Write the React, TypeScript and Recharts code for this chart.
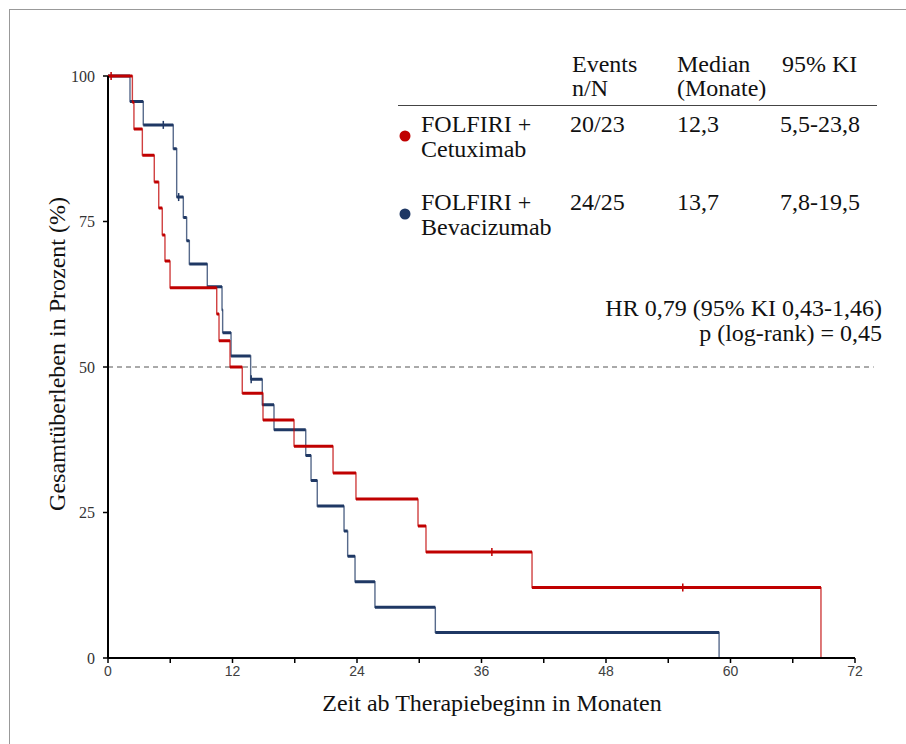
import {ComposedChart, Line, ReferenceLine, XAxis, YAxis} from 'recharts';

// Kaplan-Meier steps (months, % surviving)
const cetuximabTimes = [0, 2.35, 2.5, 3.31, 4.46, 4.89, 5.23, 5.49, 5.98, 10.48, 10.7, 11.76, 12.94, 14.94, 17.93, 21.69, 23.9, 29.88, 30.65, 40.87, 68.72];
const cetuximabSurv = [100, 95.5, 90.9, 86.4, 81.8, 77.3, 72.7, 68.2, 63.6, 59.1, 54.5, 50.0, 45.5, 40.9, 36.4, 31.8, 27.3, 22.7, 18.2, 12.1, 0];
const cetuximabCensorTimes = [0.3, 37.0, 55.4];
const cetuximabCensorSurv = [100, 18.2, 12.1];

const bevacizumabTimes = [0, 2.12, 3.4, 6.29, 6.62, 7.26, 7.58, 7.84, 9.57, 10.99, 11.05, 11.86, 13.75, 14.87, 16.0, 19.06, 19.57, 20.17, 22.75, 23.1, 23.81, 25.73, 31.55, 58.9];
const bevacizumabSurv = [100, 95.6, 91.6, 87.5, 79.2, 75.7, 71.7, 67.7, 63.8, 59.8, 55.9, 51.9, 47.9, 43.5, 39.2, 34.8, 30.5, 26.1, 21.8, 17.5, 13.1, 8.7, 4.4, 0];
const bevacizumabCensorTimes = [5.33, 6.81, 13.8];
const bevacizumabCensorSurv = [91.6, 79.2, 47.9];

const xTicks = [0, 6, 12, 18, 24, 30, 36, 42, 48, 54, 60, 66, 72];
const yTicks = [0, 25, 50, 75, 100];

const tableHeaders = [['Events', 'n/N'], ['Median', '(Monate)'], ['95% KI', '']];
const armNames = [['FOLFIRI +', 'Cetuximab'], ['FOLFIRI +', 'Bevacizumab']];
const armEvents = ['20/23', '24/25'];
const armMedians = ['12,3', '13,7'];
const armCIs = ['5,5-23,8', '7,8-19,5'];

const RED = '#C00000';
const BLUE = '#1F3864';
const SERIF = '"Liberation Serif", "Times New Roman", serif';

const steps = (times: number[], surv: number[]) =>
  times.map((t, i) => ({t, s: surv[i]}));

// horizontal pieces only, broken by nulls, so they can be drawn heavier
const flats = (times: number[], surv: number[]) => {
  const out: {t: number; s: number | null}[] = [];
  for (let i = 0; i < times.length - 1; i++) {
    out.push({t: times[i], s: surv[i]}, {t: times[i + 1], s: surv[i]}, {t: times[i + 1], s: null});
  }
  return out;
};

const censorTick = (color: string) => (props: any) => {
  const {cx, cy, index} = props;
  if (cx == null || cy == null) return <g key={index} />;
  return (
    <line key={index} x1={cx} x2={cx} y1={cy - 4} y2={cy + 4} stroke={color} strokeWidth={1.5} />
  );
};

function Curve({times, surv, ct, cs, color, id}: any) {
  return [
    <Line
      key={id + 'v'}
      data={steps(times, surv)}
      dataKey="s"
      type="stepAfter"
      stroke={color}
      strokeOpacity={0.75}
      strokeWidth={1.4}
      dot={false}
      activeDot={false}
      isAnimationActive={false}
    />,
    <Line
      key={id + 'h'}
      data={flats(times, surv)}
      dataKey="s"
      type="linear"
      stroke={color}
      strokeWidth={3}
      connectNulls={false}
      dot={false}
      activeDot={false}
      isAnimationActive={false}
    />,
    <Line
      key={id + 'c'}
      data={steps(ct, cs)}
      dataKey="s"
      stroke="none"
      dot={censorTick(color)}
      activeDot={false}
      isAnimationActive={false}
    />,
  ];
}

export default function App() {
  const colX = [572, 677, 782];
  const rowY = [132, 210];
  return (
    <div style={{position: 'absolute', left: 0, top: 0, width: 906, height: 744, background: '#fff', overflow: 'hidden'}}>
      <div style={{position: 'absolute', left: 9, top: 9, width: 906, height: 744, borderTop: '1px solid #999', borderLeft: '1px solid #999'}} />
      <ComposedChart
        width={906}
        height={744}
        margin={{top: 76, right: 51, bottom: 56, left: 0}}
        style={{position: 'absolute', left: 0, top: 0}}
      >
        <XAxis
          type="number"
          dataKey="t"
          domain={[0, 72]}
          ticks={xTicks}
          interval={0}
          tickFormatter={(v: number) => (v % 12 === 0 ? String(v) : '')}
          height={30}
          tickSize={5}
          tickMargin={3}
          axisLine={{stroke: '#000', strokeWidth: 2}}
          tickLine={{stroke: '#000', strokeWidth: 1.5}}
          tick={{fill: '#404040', fontSize: 14, fontFamily: '"Liberation Sans", Arial, sans-serif'}}
          allowDuplicatedCategory={false}
        />
        <YAxis
          type="number"
          domain={[0, 100]}
          ticks={yTicks}
          width={108}
          tickSize={5}
          tickMargin={8}
          axisLine={{stroke: '#000', strokeWidth: 2}}
          tickLine={{stroke: '#000', strokeWidth: 1.5}}
          tick={{fill: '#333', fontSize: 16, fontFamily: SERIF}}
        />
        <ReferenceLine
          segment={[{x: 0, y: 50}, {x: 73.8, y: 50}]}
          ifOverflow="visible"
          stroke="#555"
          strokeDasharray="5 4"
          strokeWidth={1}
        />
        {Curve({times: bevacizumabTimes, surv: bevacizumabSurv, ct: bevacizumabCensorTimes, cs: bevacizumabCensorSurv, color: BLUE, id: 'b'})}
        {Curve({times: cetuximabTimes, surv: cetuximabSurv, ct: cetuximabCensorTimes, cs: cetuximabCensorSurv, color: RED, id: 'r'})}
      </ComposedChart>
      <svg width={906} height={744} style={{position: 'absolute', left: 0, top: 0, pointerEvents: 'none'}}>
        <g fontFamily={SERIF} fontSize={24} fill="#111">
          {tableHeaders.map((h, i) => (
            <g key={i}>
              <text x={colX[i]} y={72}>{h[0]}</text>
              <text x={colX[i]} y={96}>{h[1]}</text>
            </g>
          ))}
          <line x1={398} x2={877} y1={105.5} y2={105.5} stroke="#444" strokeWidth={1.2} />
          {armNames.map((n, i) => (
            <g key={i}>
              <circle cx={405} cy={rowY[i] + 4} r={5.5} fill={i === 0 ? RED : BLUE} />
              <text x={421} y={rowY[i]}>{n[0]}</text>
              <text x={421} y={rowY[i] + 25}>{n[1]}</text>
              <text x={colX[0] - 2} y={rowY[i]}>{armEvents[i]}</text>
              <text x={colX[1]} y={rowY[i]}>{armMedians[i]}</text>
              <text x={colX[2] - 2} y={rowY[i]}>{armCIs[i]}</text>
            </g>
          ))}
          <text x={882} y={316} textAnchor="end">HR 0,79 (95% KI 0,43-1,46)</text>
          <text x={882} y={341} textAnchor="end">p (log-rank) = 0,45</text>
          <text x={492} y={711} textAnchor="middle">Zeit ab Therapiebeginn in Monaten</text>
          <text x={0} y={0} textAnchor="middle" transform="translate(65 354) rotate(-90)">
            Gesamtüberleben in Prozent (%)
          </text>
        </g>
      </svg>
    </div>
  );
}
